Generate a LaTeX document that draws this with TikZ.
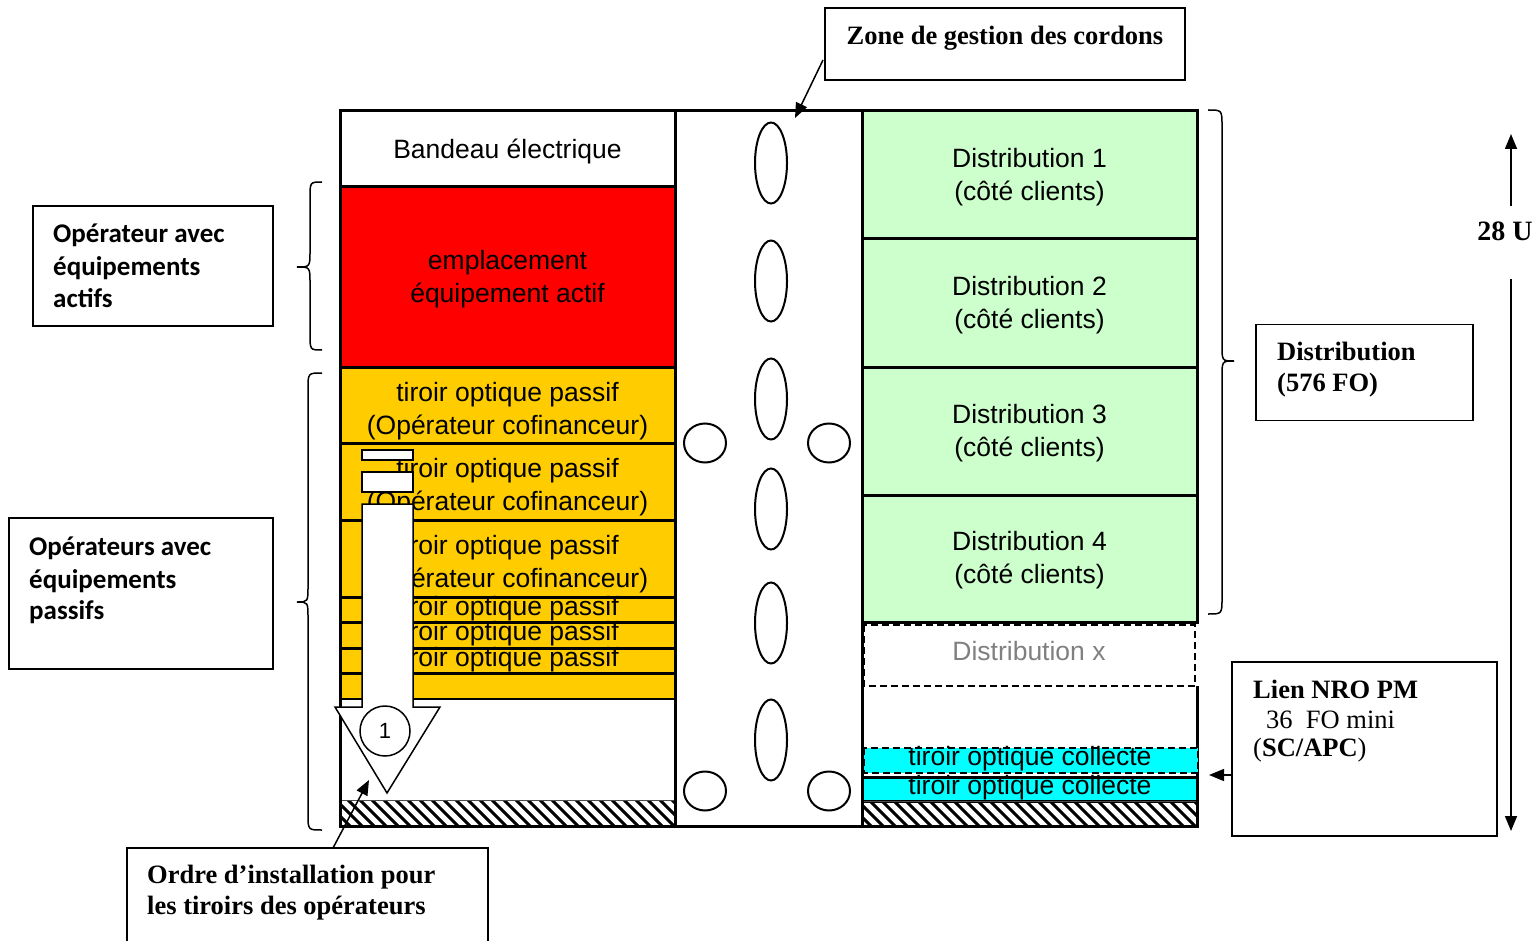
\documentclass[tikz,border=0pt]{standalone}
\usepackage{fontspec}
\setmainfont{Liberation Sans}
\newfontfamily\tnr{Liberation Serif}
\newfontfamily\calfont{Carlito}
\usetikzlibrary{arrows.meta}
\definecolor{rougeA}{HTML}{FF0000}
\definecolor{jauneA}{HTML}{FFCC00}
\definecolor{vertA}{HTML}{CCFFCC}
\definecolor{cyanA}{HTML}{00FFFF}
\definecolor{grisA}{HTML}{808080}
% name x1 y1 x2 y2 fill text yoffset
\newcommand\bloc[8]{%
  \draw[cadre, fill=#6] (#2,#3) rectangle (#4,#5);
  \node[txt] (#1) at ({(#2+#4)/2},{(#3+#5)/2+#8}) {#7};}
% xe xv xt y1 ym y2
\newcommand\accolade[6]{%
  \draw[accstyle] (#1,#4) .. controls (#2,#4) .. ({#2},{#4+16}) -- ({#2},{#5-16})
    .. controls (#2,#5) .. (#3,#5) .. controls (#2,#5) .. ({#2},{#5+16})
    -- ({#2},{#6-16}) .. controls (#2,#6) .. (#1,#6);}
\begin{document}
\begin{tikzpicture}[x=1pt,y=-1pt,
  cadre/.style={line width=3pt},
  txt/.style={inner sep=0pt, align=center, yshift=-2pt, font=\fontsize{26.5}{33}\selectfont},
  lbox/.style={draw, line width=1.5pt, inner sep=0pt},
  serifb/.style={inner sep=0pt, anchor=base west, font=\tnr\bfseries\fontsize{26.5}{31}\selectfont},
  serifr/.style={inner sep=0pt, anchor=base west, font=\tnr\fontsize{26.5}{31}\selectfont},
  calb/.style={inner sep=0pt, anchor=base west, font=\calfont\bfseries\fontsize{27}{32}\selectfont},
  fleche/.style={line width=1.5pt, -{Triangle[length=15pt,width=12pt]}},
  accstyle/.style={line width=1.5pt},
  hachure/.style={line width=3pt},
  tirets/.style={line width=2pt, dash pattern=on 7pt off 4pt},
  passe/.style={line width=2pt}]

\useasboundingbox[fill=white] (0,0) rectangle (1533,941);

% ---------- left column ----------
\bloc{bandeau}{340}{111}{675}{187}{white}{Bandeau électrique}{0}
\bloc{actif}{340}{187}{675}{367}{rougeA}{emplacement\\ équipement actif}{0}
\bloc{tA}{340}{367}{675}{443}{jauneA}{tiroir optique passif\\(Opérateur cofinanceur)}{4}
\bloc{tB}{340}{443}{675}{520}{jauneA}{tiroir optique passif\\(Opérateur cofinanceur)}{4}
\bloc{tC}{340}{520}{675}{597}{jauneA}{tiroir optique passif\\(Opérateur cofinanceur)}{4}
\bloc{tD}{340}{597}{675}{622}{jauneA}{tiroir optique passif}{-3}
\bloc{tE}{340}{622}{675}{648}{jauneA}{tiroir optique passif}{-3}
\bloc{tF}{340}{648}{675}{673}{jauneA}{tiroir optique passif}{-3}
\bloc{tG}{340}{673}{675}{699}{jauneA}{}{0}
\fill[white] (340,700) rectangle (675,800);
\begin{scope}
  \clip (340,800) rectangle (675,826);
  \foreach \i in {300,312,...,684} \draw[hachure] (\i,800) -- ++(28,28);
\end{scope}
\draw[line width=1pt, black!70] (340,800) -- (675,800);
\draw[cadre] (340,699) -- (340,826) -- (675,826);

% ---------- middle column ----------
\draw[cadre, fill=white] (675,111) rectangle (862,826);
\foreach \yy in {163,281,399,509,623,740}
  \draw[passe] (771,\yy) ellipse [x radius=16, y radius=40.5];
\foreach \yy in {443,791} {
  \draw[passe] (705,\yy) ellipse [x radius=21, y radius=19.5];
  \draw[passe] (829,\yy) ellipse [x radius=21, y radius=19.5];
}

% ---------- right column ----------
\bloc{dA}{862}{111}{1197}{239}{vertA}{Distribution 1\\(côté clients)}{0}
\bloc{dB}{862}{239}{1197}{367}{vertA}{Distribution 2\\(côté clients)}{0}
\bloc{dC}{862}{367}{1197}{495}{vertA}{Distribution 3\\(côté clients)}{0}
\bloc{dD}{862}{495}{1197}{622}{vertA}{Distribution 4\\(côté clients)}{0}
\fill[white] (863,624) rectangle (1196,801);
\draw[cadre] (1197,686) -- (1197,801);
\draw[tirets] (864,625) rectangle (1195,686);
\node[txt, text=grisA] (dX) at (1029,649) {Distribution x};
\draw[tirets, fill=cyanA] (864,748) rectangle (1198,773);
\node[txt] (colA) at (1030,757) {tiroir optique collecte};
\draw[cadre, fill=cyanA] (862,777) rectangle (1197,801);
\node[txt] (colB) at (1030,786) {tiroir optique collecte};
\begin{scope}
  \clip (862,801) rectangle (1197,826);
  \foreach \i in {822,834,...,1206} \draw[hachure] (\i,801) -- ++(28,28);
\end{scope}
\draw[line width=1pt, black!70] (862,801) -- (1197,801);
\draw[cadre] (862,826) -- (1197,826) -- (1197,801);
\draw[cadre] (862,111) -- (862,826);

% ---------- white arrow (ordre) ----------
\draw[line width=1.5pt, fill=white] (362,450) rectangle (413,460);
\draw[line width=1.5pt, fill=white] (362,472) rectangle (413,492);
\draw[line width=1.5pt, fill=white] (362,504) -- (413,504) -- (413,707) -- (440,707)
  -- (387,793) -- (335,707) -- (362,707) -- cycle;
\node[draw, circle, line width=1.5pt, fill=white, minimum size=50pt, inner sep=0pt,
  font=\fontsize{22}{26}\selectfont] (un) at (385,731) {1};

% ---------- braces ----------
\accolade{322}{310}{297}{182}{267}{350}
\accolade{322}{308}{297}{373}{602}{830}
\accolade{1208}{1222}{1234}{110}{361}{614}

% ---------- label boxes ----------
\node[lbox, minimum width=360pt, minimum height=72pt] (zone) at (1005,44) {};
\node[serifb, anchor=base] (zonet) at (1005,45) {Zone de gestion des cordons};
\coordinate (zoneA) at (823,60);
\coordinate (zoneB) at (795,118);
\draw[fleche] (zoneA) -- (zoneB);

\node[lbox, minimum width=240pt, minimum height=120pt] (bact) at (153,266) {};
\node[calb] (actA) at (53,243) {Opérateur avec};
\node[calb] (actB) at (53,276) {équipements};
\node[calb] (actC) at (53,307) {actifs};

\node[lbox, minimum width=264pt, minimum height=151pt] (bpas) at (141,593.5) {};
\node[calb] (pasA) at (29,555) {Opérateurs avec};
\node[calb] (pasB) at (29,588) {équipements};
\node[calb] (pasC) at (29,619) {passifs};

\draw[line width=1.5pt] (127,945) -- (127,848) -- (488,848) -- (488,945);
\coordinate (ordreA) at (333,848);
\coordinate (ordreB) at (369,780);
\draw[fleche] (ordreA) -- (ordreB);
\node[serifb] (ordA) at (147,883) {Ordre d’installation pour};
\node[serifb] (ordB) at (147,914) {les tiroirs des opérateurs};

\node[lbox, minimum width=217pt, minimum height=96pt] (bdist) at (1364.5,372.5) {};
\node[serifb] (distA) at (1277,360) {Distribution};
\node[serifb] (distB) at (1277,391) {(576 FO)};

\node[lbox, minimum width=265pt, minimum height=174pt] (blien) at (1364.5,749) {};
\node[serifb] (lienA) at (1253,698) {Lien NRO PM};
\node[serifr] (lienB) at (1266,728) {36\ \ FO mini};
\node[serifr] (lienC) at (1253,756) {(\textbf{SC/APC})};
\coordinate (lienP) at (1232,775);
\coordinate (lienQ) at (1209,775);
\draw[fleche] (lienP) -- (lienQ);

% ---------- 28 U ----------
\node[serifb, anchor=base, font=\tnr\bfseries\fontsize{28}{32}\selectfont] (hU) at (1505,241) {28 U};
\coordinate (uA) at (1511,206);
\coordinate (uB) at (1511,134);
\coordinate (uC) at (1511,279);
\coordinate (uD) at (1511,831);
\draw[fleche] (uA) -- (uB);
\draw[fleche] (uC) -- (uD);
\end{tikzpicture}
\end{document}
